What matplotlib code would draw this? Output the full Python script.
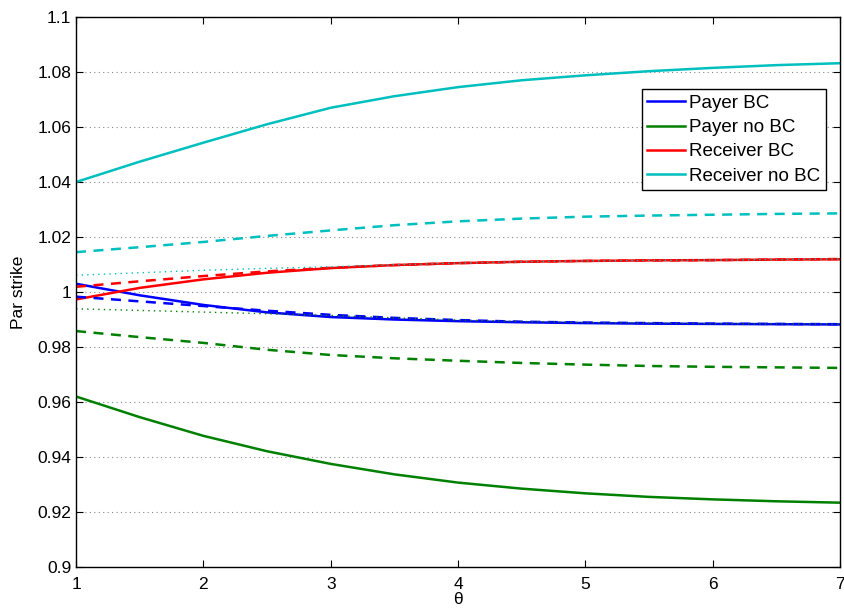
import numpy as np
import matplotlib
matplotlib.use("Agg")
import matplotlib.pyplot as plt

plt.rcParams['font.family'] = ['Liberation Sans', 'DejaVu Sans']

theta = [1, 1.5, 2, 2.5, 3, 3.5, 4, 4.5, 5, 5.5, 6, 6.5, 7]

# solid lines (legend entries)
payer_bc = [1.0030, 0.9988, 0.9953, 0.9926, 0.9909, 0.9900, 0.9894, 0.9890, 0.9887, 0.9885, 0.9884, 0.9883, 0.9882]
payer_nobc = [0.9620, 0.9545, 0.9477, 0.9421, 0.9375, 0.9337, 0.9307, 0.9285, 0.9268, 0.9255, 0.9246, 0.9239, 0.9234]
receiver_bc = [0.9973, 1.0015, 1.0046, 1.0070, 1.0087, 1.0098, 1.0105, 1.0110, 1.0113, 1.0115, 1.0116, 1.0118, 1.0119]
receiver_nobc = [1.0400, 1.0474, 1.0543, 1.0610, 1.0670, 1.0712, 1.0745, 1.0770, 1.0788, 1.0803, 1.0815, 1.0825, 1.0832]

# dashed lines
payer_bc_dash = [0.9983, 0.9966, 0.9949, 0.9932, 0.9917, 0.9906, 0.9898, 0.9892, 0.9889, 0.9887, 0.9885, 0.9884, 0.9883]
payer_nobc_dash = [0.9858, 0.9836, 0.9815, 0.9790, 0.9771, 0.9759, 0.9750, 0.9742, 0.9736, 0.9731, 0.9728, 0.9726, 0.9724]
receiver_bc_dash = [1.0019, 1.0039, 1.0058, 1.0075, 1.0088, 1.0098, 1.0105, 1.0110, 1.0113, 1.0115, 1.0116, 1.0118, 1.0120]
receiver_nobc_dash = [1.0145, 1.0163, 1.0182, 1.0204, 1.0224, 1.0243, 1.0257, 1.0267, 1.0274, 1.0278, 1.0281, 1.0284, 1.0286]

# dotted lines
payer_nobc_dot = [0.9939, 0.9933, 0.9927, 0.9921, 0.9915, 0.9906, 0.9898, 0.9893, 0.9889, 0.9887, 0.9885, 0.9884, 0.9883]
receiver_nobc_dot = [1.0061, 1.0070, 1.0079, 1.0086, 1.0092, 1.0099, 1.0105, 1.0110, 1.0113, 1.0115, 1.0116, 1.0118, 1.0120]

blue = (0, 0, 1)
green = (0, 0.5, 0)
red = (1, 0, 0)
cyan = (0, 0.75, 0.75)

fig = plt.figure(figsize=(8.45, 6.12), dpi=100)
ax = fig.add_axes([0.09, 0.0735, 0.904, 0.8987])

ax.plot(theta, payer_bc, color=blue, lw=1.8, label='Payer BC')
ax.plot(theta, payer_nobc, color=green, lw=1.8, label='Payer no BC')
ax.plot(theta, receiver_bc, color=red, lw=1.8, label='Receiver BC')
ax.plot(theta, receiver_nobc, color=cyan, lw=1.8, label='Receiver no BC')

ax.plot(theta, payer_bc_dash, color=blue, lw=1.8, ls=(0, (4, 3)))
ax.plot(theta, payer_nobc_dash, color=green, lw=1.8, ls=(0, (4, 3)))
ax.plot(theta, receiver_bc_dash, color=red, lw=1.8, ls=(0, (4, 3)))
ax.plot(theta, receiver_nobc_dash, color=cyan, lw=1.8, ls=(0, (4, 3)))

ax.plot(theta, payer_nobc_dot, color=green, lw=1.0, ls=(0, (1, 3)))
ax.plot(theta, receiver_nobc_dot, color=cyan, lw=1.0, ls=(0, (1, 3)))

ax.set_xlim(1, 7)
ax.set_ylim(0.9, 1.1)
ax.set_xticks(range(1, 8))
ax.set_yticks(np.arange(0.9, 1.1001, 0.02))
ax.set_yticklabels(['0.9', '0.92', '0.94', '0.96', '0.98', '1', '1.02', '1.04', '1.06', '1.08', '1.1'])
ax.yaxis.grid(True, linestyle=(0, (1, 3)), color='#888888', lw=0.8)
ax.set_axisbelow(True)
ax.tick_params(direction='in', top=True, right=True, labelsize=12.5, length=5)
ax.tick_params(axis='x', pad=7)
for s in ax.spines.values():
    s.set_linewidth(1.0)

ax.set_xlabel('θ', fontsize=12.5, labelpad=0)
ax.set_ylabel('Par strike', fontsize=12.5, labelpad=8)

leg = ax.legend(loc='upper right', bbox_to_anchor=(0.982, 0.869), fontsize=13.5,
                fancybox=False, edgecolor='black', framealpha=1,
                handlelength=2.0, handletextpad=0.25, borderpad=0.3, labelspacing=0.38,
                borderaxespad=0)
leg.get_frame().set_linewidth(1.0)

fig.savefig('out.png', dpi=100)
